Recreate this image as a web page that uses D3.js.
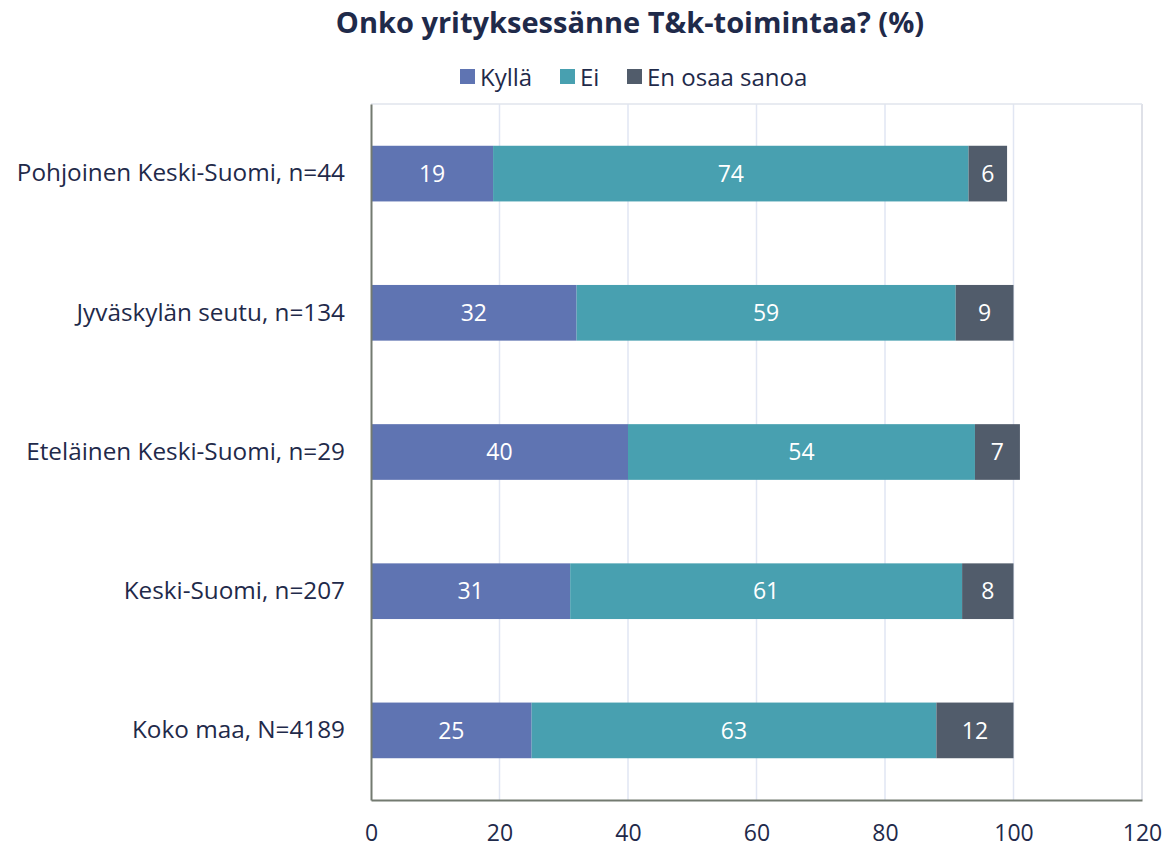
<!DOCTYPE html>
<html>
<head>
<meta charset="utf-8">
<script src="https://cdn.jsdelivr.net/npm/d3@7"></script>
<style>
  body { margin: 0; background: #fff; }
  svg { font-family: "Open Sans", "Noto Sans", sans-serif; }
</style>
</head>
<body>
<div id="chart"></div>
<script>
// chart data
var categories = ["Pohjoinen Keski-Suomi, n=44", "Jyväskylän seutu, n=134", "Eteläinen Keski-Suomi, n=29", "Keski-Suomi, n=207", "Koko maa, N=4189"];
var seriesNames = ["Kyllä", "Ei", "En osaa sanoa"];
var kylla = [19, 32, 40, 31, 25];
var ei = [74, 59, 54, 61, 63];
var eos = [6, 9, 7, 8, 12];
var xTicks = [0, 20, 40, 60, 80, 100, 120];
var colors = ["#5f74b2", "#48a0b0", "#515c6b"];

var svgWidth = 1168;
var svgHeight = 851;
var margin = { top: 104, right: 26, bottom: 51, left: 371 };
var width = svgWidth - margin.left - margin.right;
var height = svgHeight - margin.top - margin.bottom;

var svg = d3.select("#chart").append("svg")
  .attr("width", svgWidth)
  .attr("height", svgHeight);

var chartGroup = svg.append("g")
  .attr("transform", `translate(${margin.left}, ${margin.top})`);

var table = categories.map((c, i) => ({ cat: c, "Kyllä": kylla[i], "Ei": ei[i], "En osaa sanoa": eos[i] }));
var stacked = d3.stack().keys(seriesNames)(table);

var x = d3.scaleLinear().domain([0, 120]).range([0, width]);
var y = d3.scaleBand().domain(categories).range([0, height]).paddingInner(0.6).paddingOuter(0.3);

// gridlines
chartGroup.append("g").selectAll("line")
  .data(xTicks.slice(1))
  .enter().append("line")
  .attr("x1", d => x(d)).attr("x2", d => x(d))
  .attr("y1", 0).attr("y2", height)
  .attr("stroke", d => d === 120 ? "#d4d7e0" : "#e1e6f3")
  .attr("stroke-width", 1.5);

// top border
chartGroup.append("line")
  .attr("x1", 0).attr("x2", width).attr("y1", 0).attr("y2", 0)
  .attr("stroke", "#e1e4ec").attr("stroke-width", 1.5);

// bars
var layers = chartGroup.selectAll(".layer")
  .data(stacked)
  .enter().append("g")
  .attr("fill", (d, i) => colors[i]);

layers.selectAll("rect")
  .data(d => d)
  .enter().append("rect")
  .attr("x", d => x(d[0]))
  .attr("y", d => y(d.data.cat))
  .attr("width", d => x(d[1]) - x(d[0]))
  .attr("height", y.bandwidth());

layers.selectAll("text")
  .data(d => d)
  .enter().append("text")
  .attr("x", d => (x(d[0]) + x(d[1])) / 2)
  .attr("y", d => y(d.data.cat) + y.bandwidth() / 2)
  .attr("dy", "0.36em")
  .attr("text-anchor", "middle")
  .attr("fill", "#fff")
  .style("font-size", "23px")
  .text(d => d[1] - d[0]);

// axes
var xAxis = chartGroup.append("g")
  .attr("transform", `translate(0, ${height})`)
  .call(d3.axisBottom(x).tickValues(xTicks).tickSize(0).tickPadding(25))
  .attr("font-family", null);
xAxis.select(".domain").attr("stroke", "#737a70").attr("stroke-width", 2);
xAxis.selectAll("text").style("font-size", "23px").attr("fill", "#1f2a4a");

var yAxis = chartGroup.append("g")
  .call(d3.axisLeft(y).tickSize(0).tickPadding(26))
  .attr("font-family", null);
yAxis.select(".domain").attr("stroke", "#737a70").attr("stroke-width", 2);
yAxis.selectAll("text").style("font-size", "24.3px").attr("fill", "#1f2a4a");

// title
svg.append("text")
  .attr("x", 630).attr("y", 33)
  .attr("text-anchor", "middle")
  .attr("fill", "#1f2a4a")
  .style("font-size", "29px")
  .style("font-weight", "bold")
  .text("Onko yrityksessänne T&k-toimintaa? (%)");

// legend
var legendX = [460, 560, 627];
var legend = svg.append("g");
seriesNames.forEach(function(name, i) {
  legend.append("rect")
    .attr("x", legendX[i]).attr("y", 69)
    .attr("width", 15).attr("height", 15)
    .attr("fill", colors[i]);
  legend.append("text")
    .attr("x", legendX[i] + 20).attr("y", 77)
    .attr("dy", "0.36em")
    .attr("fill", "#1f2a4a")
    .style("font-size", "24px")
    .text(name);
});
</script>
</body>
</html>
